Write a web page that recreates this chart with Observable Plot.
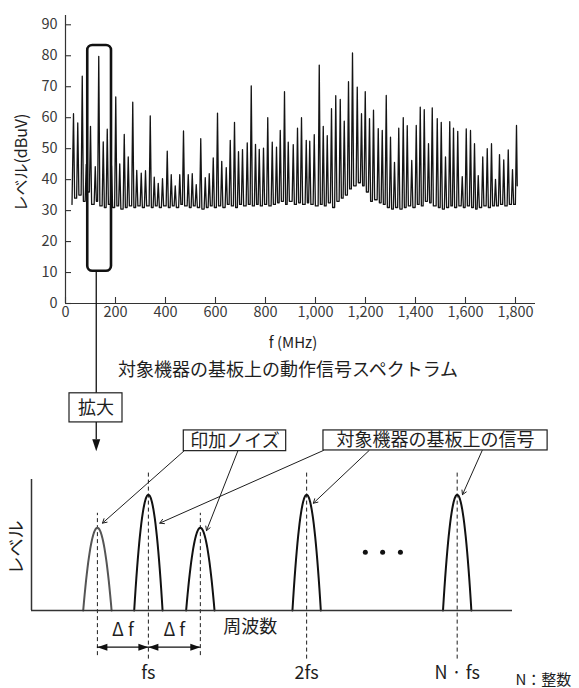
<!DOCTYPE html>
<html><head><meta charset="utf-8">
<script src="https://cdn.jsdelivr.net/npm/d3@7"></script>
<script src="https://cdn.jsdelivr.net/npm/@observablehq/plot@0.6"></script>
<style>
body{margin:0;background:#fff;}
#wrap{position:relative;width:579px;height:688px;overflow:hidden;}
#wrap svg{position:absolute;left:0;top:0;}
</style></head><body><div id="wrap"></div>
<script>
// ---------- top chart data: spectrum (MHz, dBuV) ----------
const peakFreqs = [32,49,67,83,100,119,133,151,167,184,201,217,235,251,269,285,303,320,339,355,371,388,407,423,439,457,472,491,507,523,541,559,575,591,608,625,643,659,676,692,708,727,743,760,775,792,809,827,844,859,876,891,911,928,944,963,977,995,1015,1031,1047,1064,1081,1099,1115,1132,1148,1167,1184,1199,1216,1232,1251,1267,1283,1300,1316,1333,1351,1367,1385,1403,1419,1435,1452,1467,1487,1503,1520,1537,1552,1569,1587,1603,1620,1636,1651,1669,1687,1704,1720,1736,1753,1771,1788,1804];
const peakLevels = [61.3,58.3,73.4,44.9,57.2,44.2,79.8,52.2,56.3,44.5,66.7,45.1,54.6,47.3,65,43,42.1,42.9,60.6,40.8,38.8,40.3,49.2,41.6,38,41.6,55.7,41.6,41.9,38.4,53.2,40.6,41.9,47,61.5,45.9,43.9,52.7,58.5,49,49.7,51.9,70.3,51.4,49.8,50.2,60,52.1,50.5,55.9,68.4,52.1,51.3,56.6,60,52.7,52.4,54.5,77,57.2,54.2,62.9,67.1,65.9,58.9,71.6,80.9,69.9,61.3,68.4,59.7,62.4,56.5,55.9,67.2,53.7,45.6,56.6,60,57.4,46.2,57.5,63.4,62.6,51.6,63.2,59.7,58.5,47.3,58.7,56.6,55.6,41,56.4,55.9,51.6,41.3,47.3,50,51.6,40.1,48.1,46.4,49.6,43.2,57.5];
const valleyLevels = [34,35,33,36,32,33,31.5,31,32,31,31.5,30.5,31,31.5,31,31.5,31,31.5,31,31.5,31,31.5,31,31.5,31,32,31.5,31,31.5,31,30.5,31,31.5,31,31.5,31,32,31.5,31,32,31.5,32,31.5,32,31.5,32,31.5,32,32.5,33,32,33,32,32.5,32,32.5,32,31.5,32,31.5,32.5,31,33,34,35,37,38,39,38,36,33,33.5,32.5,32,31,30.5,31,30.5,31,31.5,31,32,31.5,33,32.5,31.5,31,30.5,31,31.5,31,31.5,31,31.5,31,30.5,31,31.5,31,31.5,31.5,32,31.5,32,32];
const traceStart = {f: 26, v: 32};
const traceEnd = {f: 1807, v: 38};
const xTicks = [0,200,400,600,800,1000,1200,1400,1600,1800];
const yTicks = [0,10,20,30,40,50,60,70,80,90];
const zoomBox = [{f1: 89, f2: 184, v1: 10.4, v2: 83.3}];

// ---------- bottom schematic data ----------
const bumpLabels = ["fs-Δf", "fs", "fs+Δf", "2fs", "N·fs"];
const bumpKind = ["noise", "signal", "noise", "signal", "signal"];
const bumpPos = [13.7, 24.3, 35.1, 57.2, 88.5];
const bumpLevels = [0.715, 1, 0.715, 1, 1];
const freqLabels = ["fs", "2fs", "N · fs"];

const FONT = "'Noto Sans CJK JP', 'Noto Sans', sans-serif";
const INK = "#1e1e1e";

// spectrum trace: peak -> valley -> next peak
const SK = 4.5;
const trace = [traceStart];
peakFreqs.forEach((f, i) => {
  trace.push({f, v: peakLevels[i]});
  if (i < valleyLevels.length) {
    trace.push({f: f + SK, v: valleyLevels[i]});
    trace.push({f: peakFreqs[i + 1] - SK, v: valleyLevels[i]});
  }
});
trace.push(traceEnd);

const W = 579, H = 688;
const tMl = 65, tMr = 44, tMt = 15, tMb = 385;
const xDom = [0, 1880], yDom = [0, 93];
const mhzPerPx = (xDom[1] - xDom[0]) / (W - tMl - tMr);
const dbPerPx = (yDom[1] - yDom[0]) / (H - tMt - tMb);

const topPlot = Plot.plot({
  width: W, height: H,
  marginLeft: tMl, marginRight: tMr, marginTop: tMt, marginBottom: tMb,
  x: {domain: xDom, label: null},
  y: {domain: yDom, label: null},
  style: {fontFamily: FONT, background: "transparent", overflow: "visible"},
  marks: [
    Plot.line(trace, {x: "f", y: "v", stroke: "#141414", strokeWidth: 1.3}),
    Plot.ruleX([0], {stroke: "#333", strokeWidth: 1.2}),
    Plot.ruleY([0], {stroke: "#333", strokeWidth: 1.2}),
    Plot.ruleX(xTicks, {x: d => d, y1: 0, y2: 6 * dbPerPx, stroke: "#333", strokeWidth: 1.1}),
    Plot.ruleY(yTicks, {y: d => d, x1: 0, x2: 6 * mhzPerPx, stroke: "#333", strokeWidth: 1.1}),
    Plot.axisX(xTicks, {tickSize: 0, tickPadding: 3, fontSize: 14.5, fill: "#3a3a3a", tickFormat: d3.format(","), label: null}),
    Plot.axisY(yTicks, {tickSize: 0, tickPadding: 8, fontSize: 14.5, fill: "#3a3a3a", label: null}),
    Plot.rect(zoomBox, {x1: "f1", x2: "f2", y1: "v1", y2: "v2", rx: 5, stroke: "#111", strokeWidth: 2.6, fill: "none"}),
    // connector from the zoom box down to the 拡大 label
    Plot.ruleX([123], {y1: 10.4, y2: -29.4, stroke: "#111", strokeWidth: 1.3}),
    Plot.rect([0], {x1: 16, x2: 228, y1: -29.0, y2: -38.4, stroke: INK, strokeWidth: 1.2, fill: "#fff"}),
    Plot.text(["拡大"], {x: 122, y: -33.7, fontSize: 18, fill: INK}),
    Plot.ruleX([123], {y1: -38.4, y2: -44, stroke: "#111", strokeWidth: 1.3}),
    Plot.vector([0], {x: 123, y: -47.7, length: 12, r: 4, rotate: 180, anchor: "end", shape: "spike", fill: "#111", stroke: "none"}),
    // labels
    Plot.text(["f (MHz)"], {x: 910, y: -12.9, fontSize: 15, fill: INK}),
    Plot.text(["対象機器の基板上の動作信号スペクトラム"], {x: 890, y: -21.6, fontSize: 18, fill: INK}),
    Plot.text(["レベル(dBuV)"], {x: -176, y: 45.5, rotate: -90, fontSize: 16, fill: INK})
  ]
});

// ---------- bottom schematic ----------
const bHalf = 2.95;
const bumpPts = [];
bumpPos.forEach((c, i) => {
  for (let k = 0; k <= 40; k++) {
    const t = -1 + 2 * k / 40;
    bumpPts.push({id: i, x: c + bHalf * t, y: bumpLevels[i] * (1 - t * t)});
  }
});
const sigIdx = bumpKind.map((k, i) => k === "signal" ? i : -1).filter(i => i >= 0);
const noiseIdx = bumpKind.map((k, i) => k === "noise" ? i : -1).filter(i => i >= 0);

const botPlot = Plot.plot({
  width: W, height: H,
  marginLeft: 31, marginRight: 67, marginTop: 479, marginBottom: 78,
  x: {domain: [0, 100], axis: null},
  y: {domain: [0, 1.132], axis: null},
  style: {fontFamily: FONT, background: "transparent", overflow: "visible"},
  marks: [
    Plot.ruleX(sigIdx, {x: i => bumpPos[i], y1: -0.42, y2: 1.2, stroke: INK, strokeWidth: 1, strokeDasharray: "4,3"}),
    Plot.ruleX(noiseIdx, {x: i => bumpPos[i], y1: -0.39, y2: 0.84, stroke: INK, strokeWidth: 1, strokeDasharray: "4,3"}),
    Plot.line(bumpPts.filter(d => d.id === 0), {x: "x", y: "y", z: "id", stroke: "#555", strokeWidth: 2}),
    Plot.line(bumpPts.filter(d => d.id !== 0), {x: "x", y: "y", z: "id", stroke: "#111", strokeWidth: 2}),
    Plot.ruleX([0], {stroke: "#333", strokeWidth: 1.5}),
    Plot.ruleY([0], {stroke: "#333", strokeWidth: 1.5}),
    Plot.dot([69.4, 73.0, 76.7], {x: d => d, y: 0.504, r: 2.5, fill: "#111", stroke: "none"}),
    // Δf arrows
    Plot.ruleY([0, 1], {x1: i => bumpPos[i], x2: i => bumpPos[i + 1], y: -0.317, stroke: "#111", strokeWidth: 1.3}),
    Plot.vector([0, 1], {x: i => bumpPos[i], y: -0.317, length: 10, r: 3.5, rotate: 270, anchor: "end", shape: "spike", fill: "#111", stroke: "none"}),
    Plot.vector([1, 2], {x: i => bumpPos[i], y: -0.317, length: 10, r: 3.5, rotate: 90, anchor: "end", shape: "spike", fill: "#111", stroke: "none"}),
    Plot.text([0, 1], {x: i => (bumpPos[i] + bumpPos[i + 1]) / 2, y: -0.173, text: () => "Δ f", fontSize: 18, fill: INK}),
    Plot.text(["周波数"], {x: 45.5, y: -0.144, fontSize: 18, fill: INK}),
    Plot.text(freqLabels, {x: (d, i) => bumpPos[sigIdx[i]], y: -0.545, fontSize: 18, fill: INK}),
    Plot.text(["N：整数"], {x: 100.6, y: -0.605, textAnchor: "start", fontSize: 15, fill: INK}),
    Plot.text(["レベル"], {x: -2.97, y: 0.545, rotate: -90, fontSize: 18, fill: INK}),
    // callouts
    Plot.arrow([0], {x1: 31.66, y1: 1.377, x2: 14.76, y2: 0.755, stroke: INK, strokeWidth: 1, headLength: 7}),
    Plot.arrow([0], {x1: 42.88, y1: 1.377, x2: 36.38, y2: 0.69, stroke: INK, strokeWidth: 1, headLength: 7}),
    Plot.arrow([0], {x1: 60.7, y1: 1.383, x2: 26.67, y2: 0.755, stroke: INK, strokeWidth: 1, headLength: 7}),
    Plot.arrow([0], {x1: 70.2, y1: 1.383, x2: 58.6, y2: 0.927, stroke: INK, strokeWidth: 1, headLength: 7}),
    Plot.arrow([0], {x1: 93.7, y1: 1.383, x2: 89.6, y2: 1.001, stroke: INK, strokeWidth: 1, headLength: 7}),
    Plot.rect([0], {x1: 31.66, x2: 52.95, y1: 1.377, y2: 1.556, stroke: INK, strokeWidth: 1.2, fill: "#fff"}),
    Plot.text(["印加ノイズ"], {x: 42.3, y: 1.466, fontSize: 18, fill: INK}),
    Plot.rect([0], {x1: 60.7, x2: 107.3, y1: 1.383, y2: 1.556, stroke: INK, strokeWidth: 1.2, fill: "#fff"}),
    Plot.text(["対象機器の基板上の信号"], {x: 84.0, y: 1.469, fontSize: 18, fill: INK})
  ]
});

const wrap = document.getElementById("wrap");
wrap.appendChild(topPlot);
wrap.appendChild(botPlot);
</script></body></html>
